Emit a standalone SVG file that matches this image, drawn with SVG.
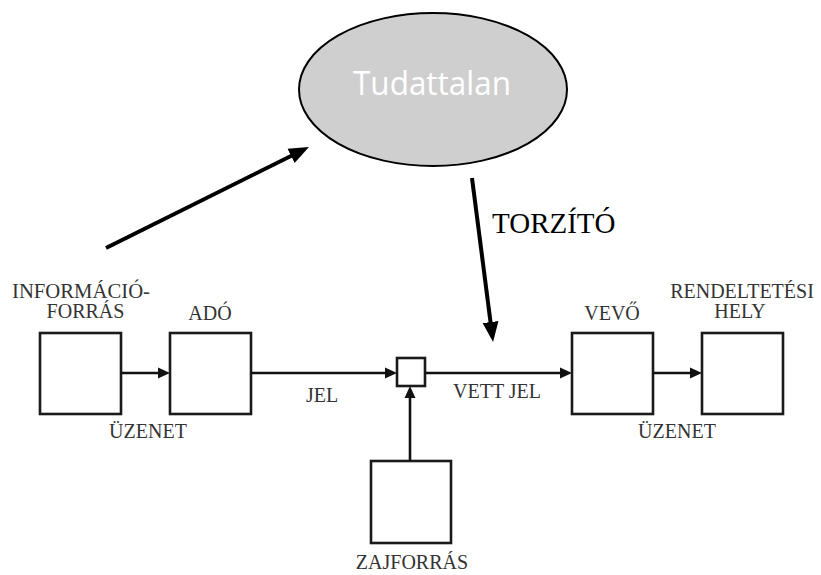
<svg xmlns="http://www.w3.org/2000/svg" width="821" height="575" viewBox="0 0 821 575">
<style>
.box{fill:#fff;stroke:#1a1a1a;stroke-width:2.6}
.lbl{font-size:20px;fill:#333;text-anchor:middle}
.ln{stroke:#111;stroke-width:2.6;fill:none}
.big{stroke:#000;stroke-width:4;fill:none}
</style>
<defs>
<marker id="a" markerUnits="userSpaceOnUse" markerWidth="12" markerHeight="12" refX="6" refY="5.5" orient="auto" viewBox="0 0 12 11">
<path d="M0,0 L12,5.5 L0,11 z" fill="#111"/>
</marker>
<marker id="b" markerUnits="userSpaceOnUse" markerWidth="20" markerHeight="18" refX="10" refY="8" orient="auto" viewBox="0 0 20 16">
<path d="M0,0 L20,8 L0,16 z" fill="#000"/>
</marker>
</defs>
<rect width="821" height="575" fill="#fff"/>
<g id="tudattalan">
<ellipse cx="433" cy="89.5" rx="134" ry="76.5" fill="#d0cfd0" stroke="#000" stroke-width="2"/>
<text x="432" y="95" font-family="Open Sans, Noto Sans, sans-serif" font-size="32" fill="#fff" text-anchor="middle" textLength="158" lengthAdjust="spacingAndGlyphs">Tudattalan</text>
</g>
<g font-family="Liberation Serif, Times New Roman, serif">
<g id="informacioforras">
<rect class="box" x="40" y="333" width="81" height="81"/>
<text class="lbl" x="81" y="298" textLength="138" lengthAdjust="spacingAndGlyphs">INFORMÁCIÓ-</text>
<text class="lbl" x="85.5" y="318">FORRÁS</text>
</g>
<g id="ado">
<rect class="box" x="170" y="333" width="81" height="81"/>
<text class="lbl" x="210" y="320">ADÓ</text>
</g>
<g id="osszegzo">
<rect class="box" x="397" y="358" width="28" height="28"/>
</g>
<g id="zajforras">
<rect class="box" x="371" y="461" width="80" height="82"/>
<text class="lbl" x="412" y="569">ZAJFORRÁS</text>
</g>
<g id="vevo">
<rect class="box" x="572" y="333" width="81" height="81"/>
<text class="lbl" x="612" y="320">VEVŐ</text>
</g>
<g id="rendeltetesi-hely">
<rect class="box" x="702" y="333" width="81" height="81"/>
<text class="lbl" x="742" y="298">RENDELTETÉSI</text>
<text class="lbl" x="740" y="318">HELY</text>
</g>
<g id="connectors">
<line class="ln" x1="121" y1="373" x2="164" y2="373" marker-end="url(#a)"/>
<line class="ln" x1="251" y1="373" x2="391" y2="373" marker-end="url(#a)"/>
<line class="ln" x1="425" y1="373" x2="566" y2="373" marker-end="url(#a)"/>
<line class="ln" x1="653" y1="373" x2="696" y2="373" marker-end="url(#a)"/>
<line class="ln" x1="410" y1="461" x2="410" y2="392" marker-end="url(#a)"/>
<line class="big" x1="106" y1="248" x2="300" y2="151.5" marker-end="url(#b)"/>
<line class="big" x1="472" y1="178" x2="491.8" y2="332" marker-end="url(#b)"/>
</g>
<g id="labels">
<text class="lbl" x="322" y="402">JEL</text>
<text class="lbl" x="148" y="438">ÜZENET</text>
<text class="lbl" x="497" y="398">VETT JEL</text>
<text class="lbl" x="677" y="438">ÜZENET</text>
<text x="492" y="233" font-size="29" fill="#000">TORZÍTÓ</text>
</g>
</g>
</svg>
